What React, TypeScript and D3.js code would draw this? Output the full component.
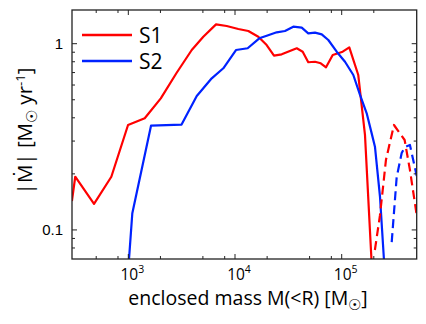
import React from "react";
import * as d3 from "d3";

const s1Mass = [296, 318, 477, 693, 994, 1425, 2015, 2820, 3930, 5045, 6640, 8360, 10740, 13330, 16530, 19800, 23200, 27400, 37900, 43100, 48600, 56200, 63600, 71300, 82400, 102200, 117800, 143000, 165300, 192000];
const s1Rate = [0.143, 0.193, 0.138, 0.193, 0.366, 0.398, 0.509, 0.694, 0.925, 1.09, 1.27, 1.245, 1.2, 1.17, 1.09, 0.984, 0.863, 0.877, 0.945, 0.906, 0.795, 0.8, 0.785, 0.747, 0.87, 0.906, 0.956, 0.679, 0.324, 0.062];

const s1NegMass = [204700, 228500, 260000, 309000, 389000, 436000, 505000];
const s1NegRate = [0.078, 0.12, 0.238, 0.366, 0.304, 0.21, 0.12];

const s2Mass = [1000, 1090, 1632, 3155, 4380, 6050, 7770, 10210, 13140, 16890, 19820, 24600, 29400, 35200, 42200, 48600, 56200, 65000, 74900, 89800, 107400, 128500, 148500, 171500, 191000, 205000, 228500, 252000];
const s2Rate = [0.062, 0.123, 0.363, 0.368, 0.524, 0.652, 0.738, 0.925, 0.945, 1.069, 1.104, 1.151, 1.17, 1.234, 1.219, 1.137, 1.146, 1.123, 1.047, 0.906, 0.8, 0.679, 0.531, 0.423, 0.33, 0.28, 0.151, 0.062];

const s2NegMass = [294300, 327600, 365000, 392000, 436000, 505000];
const s2NegRate = [0.086, 0.192, 0.259, 0.279, 0.286, 0.195];

const xMajor = [1e3, 1e4, 1e5];
const xMajorExp = ["3", "4", "5"];
const xMinor = [500, 800, 2000, 5000, 8000, 20000, 50000, 80000, 200000];
const yMajor = [0.1, 1];
const yMajorLabels = ["0.1", "1"];
const yMinor = [0.08, 0.09, 0.2, 0.3, 0.4, 0.5, 0.6, 0.7, 0.8, 0.9];

const legendNames = ["S1", "S2"];
const colors = ["#ff0000", "#0022ff"];

export default function App() {
  const left = 72, right = 416.7, top = 10, bottom = 259;
  const x = d3.scaleLog().domain([296.5, 504700]).range([left, right]);
  const y = d3.scaleLog().domain([0.0698, 1.517]).range([bottom, top]);
  const line = d3
    .line<[number, number]>()
    .x((d) => x(d[0]))
    .y((d) => y(d[1]));
  const zip = (a: number[], b: number[]) => a.map((v, i) => [v, b[i]] as [number, number]);

  const tickFont = "'Liberation Sans', Arial, sans-serif";
  const labelFont = "'Open Sans', sans-serif";
  const axisColor = "#222";

  return (
    <svg width={426} height={324} style={{ position: "absolute", left: 0, top: 0, background: "#fff" }}>
      <defs>
        <clipPath id="plotclip">
          <rect x={left} y={top} width={right - left} height={bottom - top} />
        </clipPath>
      </defs>
      <g clipPath="url(#plotclip)" fill="none" strokeWidth={2.2} strokeLinejoin="round">
        <path d={line(zip(s1Mass, s1Rate)) || ""} stroke={colors[0]} />
        <path d={line(zip(s2Mass, s2Rate)) || ""} stroke={colors[1]} />
        <path d={line(zip(s1NegMass, s1NegRate)) || ""} stroke={colors[0]} strokeDasharray="9,5" />
        <path d={line(zip(s2NegMass, s2NegRate)) || ""} stroke={colors[1]} strokeDasharray="9,5" />
      </g>
      {/* ticks */}
      <g stroke={axisColor} strokeWidth={1}>
        {xMajor.map((v, i) => (
          <g key={"xM" + i}>
            <line x1={x(v)} x2={x(v)} y1={bottom} y2={bottom - 5} />
            <line x1={x(v)} x2={x(v)} y1={top} y2={top + 5} />
          </g>
        ))}
        {xMinor.map((v, i) => (
          <g key={"xm" + i}>
            <line x1={x(v)} x2={x(v)} y1={bottom} y2={bottom - 3} />
            <line x1={x(v)} x2={x(v)} y1={top} y2={top + 3} />
          </g>
        ))}
        {yMajor.map((v, i) => (
          <g key={"yM" + i}>
            <line x1={left} x2={left + 5} y1={y(v)} y2={y(v)} />
            <line x1={right} x2={right - 5} y1={y(v)} y2={y(v)} />
          </g>
        ))}
        {yMinor.map((v, i) => (
          <g key={"ym" + i}>
            <line x1={left} x2={left + 3} y1={y(v)} y2={y(v)} />
            <line x1={right} x2={right - 3} y1={y(v)} y2={y(v)} />
          </g>
        ))}
      </g>
      <rect x={left} y={top} width={right - left} height={bottom - top} fill="none" stroke={axisColor} strokeWidth={1.3} />
      {/* tick labels */}
      {yMajor.map((v, i) => (
        <text key={"yl" + i} x={63} y={y(v)} dy="0.35em" textAnchor="end" fontFamily={tickFont} fontSize={15} fill="#000">
          {yMajorLabels[i]}
        </text>
      ))}
      {xMajor.map((v, i) => (
        <text key={"xl" + i} x={x(v) + 4} y={280} textAnchor="middle" fontFamily={labelFont} fontSize={15.5} fill="#000">
          10
          <tspan fontSize={10.5} dy={-7}>
            {xMajorExp[i]}
          </tspan>
        </text>
      ))}
      {/* axis labels */}
      <text x={248} y={305} textAnchor="middle" fontFamily={labelFont} fontSize={19.5} fill="#000">
        enclosed mass M(&lt;R) [M
        <tspan fontSize={15} dy={5}>☉</tspan>
        <tspan dy={-5}>]</tspan>
      </text>
      <text transform="translate(32,131) rotate(-90)" textAnchor="middle" fontFamily={labelFont} fontSize={20.5} fill="#000">
        |Ṁ| [M
        <tspan fontSize={15} dy={5}>☉</tspan>
        <tspan dy={-5}> yr</tspan>
        <tspan fontSize={13} dy={-7}>-1</tspan>
        <tspan dy={7}>]</tspan>
      </text>
      {/* legend */}
      {legendNames.map((n, i) => (
        <g key={"lg" + i}>
          <line x1={82} x2={132} y1={35 + i * 26} y2={35 + i * 26} stroke={colors[i]} strokeWidth={2.5} />
          <text x={139} y={35 + i * 26} dy="0.36em" fontFamily={labelFont} fontSize={21} fill="#000">
            {n}
          </text>
        </g>
      ))}
    </svg>
  );
}
